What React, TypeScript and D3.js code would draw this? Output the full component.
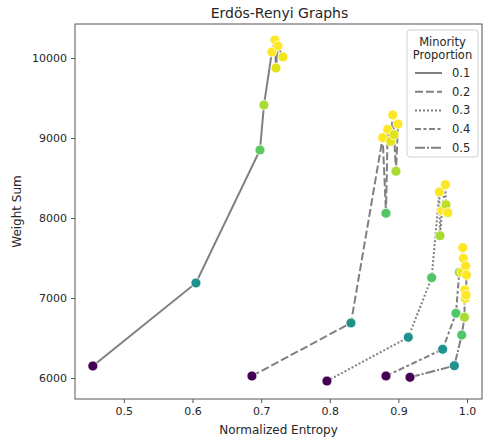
import { useEffect, useRef } from 'react';
import * as d3 from 'd3';

// minority proportion per series
const proportions = ['0.1', '0.2', '0.3', '0.4', '0.5'];

// normalized entropy (x), weight sum (y) and hue value per point
const entropy01 = [0.4548, 0.605, 0.6983, 0.7041, 0.7157, 0.7201, 0.7216, 0.7245, 0.7318];
const weight01  = [6150, 7188, 8850, 9412, 10075, 10225, 9875, 10150, 10012];
const hue01     = [0, 0.5, 0.75, 0.87, 1, 1, 0.95, 1, 0.98];

const entropy02 = [0.6866, 0.8309, 0.8771, 0.8819, 0.8844, 0.8888, 0.8917, 0.8936, 0.8965, 0.8994];
const weight02  = [6025, 6688, 9004, 8059, 9109, 8959, 9288, 9041, 8584, 9175];
const hue02     = [0, 0.5, 1, 0.73, 1, 0.95, 1, 0.95, 0.87, 1];

const entropy03 = [0.7959, 0.9144, 0.9485, 0.9596, 0.9606, 0.9636, 0.9684, 0.9694, 0.9719];
const weight03  = [5962, 6509, 7254, 8325, 7779, 8091, 8416, 8166, 8066];
const hue03     = [0, 0.5, 0.73, 1, 0.87, 1, 1, 0.9, 1];

const entropy04 = [0.8819, 0.9645, 0.9839, 0.9887, 0.9927, 0.9937, 0.9946, 0.9981];
const weight04  = [6025, 6359, 6809, 7321, 7325, 7629, 7496, 7400];
const hue04     = [0, 0.5, 0.73, 0.87, 0.97, 1, 1, 1];

const entropy05 = [0.9169, 0.9815, 0.9923, 0.9962, 0.9968, 0.9975, 0.9985, 0.9992];
const weight05  = [6009, 6154, 6537, 6759, 7100, 6996, 7037, 7287];
const hue05     = [0, 0.5, 0.73, 0.87, 1, 0.98, 1, 1];

const xTicks = [0.5, 0.6, 0.7, 0.8, 0.9, 1.0];
const yTicks = [6000, 7000, 8000, 9000, 10000];

const dashes = ['', '8,3', '2,2', '6,2.5,3,2.5', '10,2,2,2'];

export default function App() {
  const svgRef = useRef<SVGSVGElement>(null);

  useEffect(() => {
    if (!svgRef.current) return;
    const W = 484, H = 438;
    const margin = { top: 24, right: 2, bottom: 39, left: 75 };
    const width  = W - margin.left - margin.right;
    const height = H - margin.top - margin.bottom;
    const font = 'DejaVu Sans, sans-serif';
    const ink = '#262626';

    const svg = d3.select(svgRef.current).attr('width', W).attr('height', H);
    svg.selectAll('*').remove();

    const g = svg.append('g').attr('transform', `translate(${margin.left},${margin.top})`);

    const x = d3.scaleLinear().domain([0.4288, 1.0218]).range([0, width]);
    const y = d3.scaleLinear().domain([5737.5, 10425]).range([height, 0]);

    const series = [
      [entropy01, weight01, hue01],
      [entropy02, weight02, hue02],
      [entropy03, weight03, hue03],
      [entropy04, weight04, hue04],
      [entropy05, weight05, hue05],
    ].map(([xs, ys, hs]) => d3.sort(xs.map((v, i) => ({ x: v, y: ys[i], h: hs[i] })), d => d.x));

    // Axes
    g.append('g')
      .attr('transform', `translate(0,${height})`)
      .call(d3.axisBottom(x).tickValues(xTicks).tickFormat(d3.format('.1f')).tickSize(4).tickPadding(4))
      .call(gg => gg.select('.domain').remove())
      .call(gg => gg.selectAll('line').attr('stroke', '#555'))
      .call(gg => gg.selectAll('text')
        .attr('font-family', font).attr('font-size', 11).attr('fill', ink));

    g.append('g')
      .call(d3.axisLeft(y).tickValues(yTicks).tickFormat(d3.format('d')).tickSize(4).tickPadding(4))
      .call(gg => gg.select('.domain').remove())
      .call(gg => gg.selectAll('line').attr('stroke', '#555'))
      .call(gg => gg.selectAll('text')
        .attr('font-family', font).attr('font-size', 11).attr('fill', ink));

    g.append('rect')
      .attr('x', 0).attr('y', 0).attr('width', width).attr('height', height)
      .attr('fill', 'none').attr('stroke', '#555').attr('stroke-width', 1);

    // Lines
    const line = d3.line<{ x: number; y: number }>().x(d => x(d.x)).y(d => y(d.y));
    series.forEach((pts, i) => {
      g.append('path')
        .datum(pts)
        .attr('d', line)
        .attr('fill', 'none')
        .attr('stroke', '#808080')
        .attr('stroke-width', 2)
        .attr('stroke-dasharray', dashes[i] || null);
    });

    // Points
    series.forEach(pts => {
      g.selectAll(null)
        .data(pts)
        .enter().append('circle')
        .attr('cx', d => x(d.x))
        .attr('cy', d => y(d.y))
        .attr('r', 5)
        .attr('fill', d => d3.interpolateViridis(d.h))
        .attr('stroke', '#fff')
        .attr('stroke-width', 0.8);
    });

    // Titles
    svg.append('text')
      .attr('x', margin.left + width / 2 + 1).attr('y', 18)
      .attr('text-anchor', 'middle')
      .attr('font-family', font).attr('font-size', 14).attr('fill', ink)
      .text('Erdös-Renyi Graphs');

    svg.append('text')
      .attr('x', margin.left + width / 2).attr('y', 434)
      .attr('text-anchor', 'middle')
      .attr('font-family', font).attr('font-size', 12).attr('fill', ink)
      .text('Normalized Entropy');

    svg.append('text')
      .attr('transform', `translate(21,${margin.top + height / 2}) rotate(-90)`)
      .attr('text-anchor', 'middle')
      .attr('font-family', font).attr('font-size', 12).attr('fill', ink)
      .text('Weight Sum');

    // Legend
    const lg = svg.append('g');
    lg.append('rect')
      .attr('x', 407).attr('y', 30).attr('width', 71).attr('height', 127)
      .attr('rx', 3)
      .attr('fill', '#fff').attr('fill-opacity', 0.8)
      .attr('stroke', '#d0d0d0');
    lg.append('text')
      .attr('x', 442.5).attr('y', 46).attr('text-anchor', 'middle')
      .attr('font-family', font).attr('font-size', 11.5).attr('fill', ink)
      .text('Minority');
    lg.append('text')
      .attr('x', 442.5).attr('y', 59).attr('text-anchor', 'middle')
      .attr('font-family', font).attr('font-size', 11.5).attr('fill', ink)
      .text('Proportion');
    proportions.forEach((p, i) => {
      const yy = 73 + i * 18.7;
      lg.append('line')
        .attr('x1', 415).attr('x2', 442).attr('y1', yy).attr('y2', yy)
        .attr('stroke', '#808080').attr('stroke-width', 2)
        .attr('stroke-dasharray', dashes[i] || null);
      lg.append('text')
        .attr('x', 452).attr('y', yy + 4)
        .attr('font-family', font).attr('font-size', 11.5).attr('fill', ink)
        .text(p);
    });
  }, []);

  return (
    <svg ref={svgRef} style={{ position: 'absolute', left: 0, top: 0, display: 'block' }} />
  );
}
